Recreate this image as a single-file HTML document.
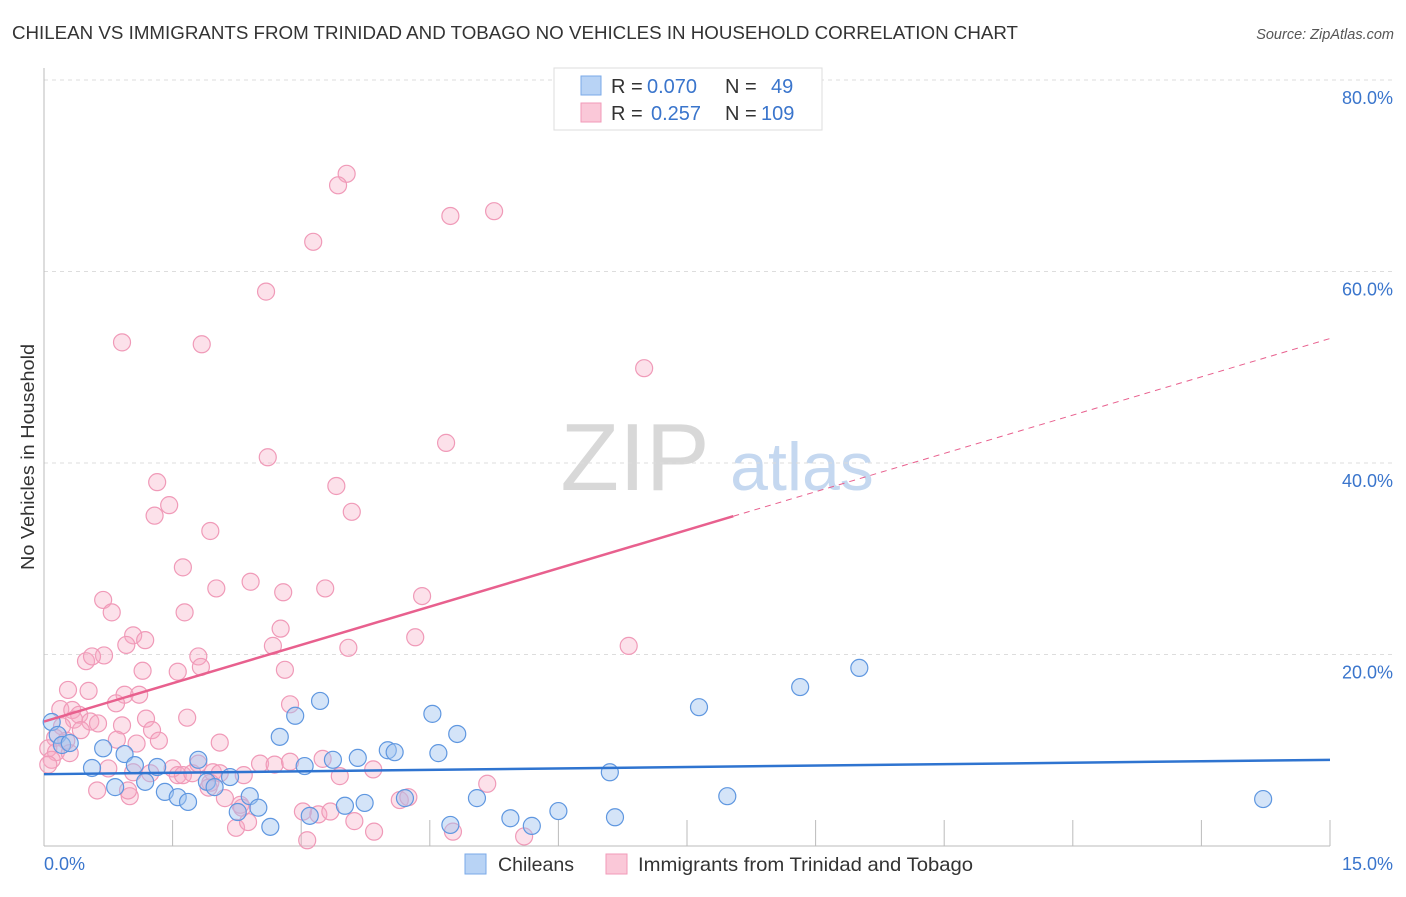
<!DOCTYPE html>
<html><head><meta charset="utf-8"><style>
body{margin:0;background:#fff;font-family:"Liberation Sans",sans-serif;}
svg text{font-family:"Liberation Sans",sans-serif;}
</style></head><body>
<svg id="chart" width="1406" height="892" viewBox="0 0 1406 892" xmlns="http://www.w3.org/2000/svg">
<text x="12" y="39" font-size="18" fill="#333" textLength="1006" lengthAdjust="spacingAndGlyphs">CHILEAN VS IMMIGRANTS FROM TRINIDAD AND TOBAGO NO VEHICLES IN HOUSEHOLD CORRELATION CHART</text>
<text x="1394" y="39" font-size="14.5" fill="#555" text-anchor="end" font-style="italic">Source: ZipAtlas.com</text>
<g>
<text x="635" y="490" font-size="96" fill="#d8d8d8" text-anchor="middle" font-family="Liberation Serif">ZIP</text>
<text x="802" y="490" font-size="68" fill="#c5d8f0" text-anchor="middle">atlas</text>
</g>
<g id="grid"></g>
<g id="axes"></g>
<g id="pts"></g>
<g id="trends"></g>
<text transform="translate(34,457) rotate(-90)" font-size="18.5" fill="#333" text-anchor="middle" textLength="226" lengthAdjust="spacingAndGlyphs">No Vehicles in Household</text>
<g>
<rect x="554" y="68" width="268" height="62" fill="#fff" stroke="#ddd"/>
<rect x="581" y="76" width="20" height="19" fill="#b8d3f5" stroke="#7aa9e8"/>
<rect x="581" y="103" width="20" height="19" fill="#fac8d8" stroke="#f29ab8"/>
<text x="611" y="93" font-size="20" fill="#333">R = </text><text x="647" y="93" font-size="20" fill="#3a75cc">0.070</text>
<text x="725" y="93" font-size="20" fill="#333">N = </text><text x="771" y="93" font-size="20" fill="#3a75cc">49</text>
<text x="611" y="120" font-size="20" fill="#333">R = </text><text x="651" y="120" font-size="20" fill="#3a75cc">0.257</text>
<text x="725" y="120" font-size="20" fill="#333">N = </text><text x="761" y="120" font-size="20" fill="#3a75cc">109</text>
</g>
<g>
<g><rect x="465" y="854" width="21" height="20" fill="#b8d3f5" stroke="#7aa9e8"/><text x="498" y="871" font-size="19.5" fill="#333" textLength="76" lengthAdjust="spacingAndGlyphs">Chileans</text></g>
<g><rect x="606" y="854" width="21" height="20" fill="#fac8d8" stroke="#f29ab8"/><text x="638" y="871" font-size="19.5" fill="#333" textLength="335" lengthAdjust="spacingAndGlyphs">Immigrants from Trinidad and Tobago</text></g>
</g>
</svg>
<script>
const yTicks=[20,40,60,80];
const yTickLabels=["20.0%","40.0%","60.0%","80.0%"];
const xTicks=[1.5,3,4.5,6,7.5,9,10.5,12,13.5,15];
const blueX=[0.09,0.16,0.21,0.30,0.56,0.69,0.83,0.94,1.06,1.18,1.32,1.41,1.56,1.68,1.80,1.90,1.99,2.17,2.40,2.50,2.26,2.64,2.75,2.93,3.04,3.10,3.22,3.37,3.51,3.66,3.74,4.01,4.09,4.21,4.53,4.60,4.74,4.82,5.05,5.44,5.69,6.0,6.6,6.66,7.64,7.97,8.82,9.51,14.22];
const blueY=[12.95,11.6,10.55,10.75,8.15,10.2,6.15,9.6,8.45,6.7,8.25,5.65,5.1,4.6,9.0,6.7,6.15,7.2,5.2,4.0,3.55,2.0,11.4,13.6,8.35,3.15,15.15,9.0,4.2,9.2,4.5,10.0,9.8,5.0,13.8,9.7,2.2,11.7,5.0,2.9,2.1,3.65,7.7,3.0,14.5,5.2,16.6,18.6,4.9];
const pinkX=[3.53,3.43,4.74,5.25,3.14,2.59,0.91,1.84,7.0,4.69,2.61,1.32,3.41,1.46,1.29,3.59,1.94,1.62,2.41,2.01,2.79,3.28,0.69,0.79,1.64,4.41,2.76,1.04,1.18,0.96,4.33,2.67,3.55,6.82,0.70,0.49,0.56,1.80,1.83,1.56,1.15,2.81,0.28,0.52,0.94,1.11,0.84,0.19,0.33,0.41,0.35,2.87,1.67,1.19,0.54,0.63,0.91,0.21,0.43,1.26,0.13,0.26,1.34,2.05,0.85,1.08,0.05,0.14,0.30,0.75,1.04,1.24,1.50,1.56,1.62,1.73,1.80,1.97,1.94,2.05,2.33,2.52,2.69,2.87,3.25,3.45,3.84,1.92,2.11,2.29,2.31,0.62,1.0,0.98,3.02,3.20,3.34,3.62,3.85,4.15,4.25,5.17,2.24,2.38,3.07,4.77,5.60,0.09,0.05];
const pinkY=[70.2,69.0,65.8,66.3,63.1,57.9,52.6,52.4,49.9,42.1,40.6,38.0,37.6,35.6,34.5,34.9,32.9,29.1,27.6,26.9,26.5,26.9,25.7,24.4,24.4,26.1,22.7,22.0,21.5,21.0,21.8,20.9,20.7,20.9,19.9,19.3,19.8,19.8,18.7,18.2,18.3,18.4,16.3,16.2,15.8,15.8,14.9,14.3,14.2,13.7,13.2,14.8,13.4,13.3,13.0,12.8,12.6,12.5,12.1,12.1,11.3,11.0,11.0,10.8,11.1,10.7,10.2,9.8,9.7,8.1,7.7,7.6,8.1,7.4,7.4,7.6,8.6,7.7,6.6,7.6,7.4,8.6,8.5,8.8,9.1,7.3,8.0,6.1,5.0,4.3,4.0,5.8,5.2,5.8,3.6,3.3,3.6,2.6,1.5,4.8,5.1,6.5,1.9,2.5,0.6,1.5,1.0,9.0,8.5];
const blueTrend=[7.5,9.0];
const pinkTrend=[13.0,53.0];
const pinkSolidEnd=8.04;
const NS="http://www.w3.org/2000/svg";
const X=v=>44+v/15*1286;
const Y=v=>846-v/80*766;
function mk(tag,attrs,parent){const e=document.createElementNS(NS,tag);for(const k in attrs)e.setAttribute(k,attrs[k]);document.getElementById(parent).appendChild(e);return e;}
yTicks.forEach((t,i)=>{
  const l=mk('line',{x1:44,x2:1392,y1:Y(t),y2:Y(t),stroke:'#ddd','stroke-dasharray':'4,4'},'grid');
  
  
  const tx=mk('text',{x:1393,y:Y(t)+24,'font-size':18,fill:'#3a75cc','text-anchor':'end'},'grid');
  tx.textContent=yTickLabels[i];
  
  
});
const al=mk('line',{x1:44,x2:44,y1:68,y2:846,stroke:'#bbb'},'axes');


const bl=mk('line',{x1:44,x2:1330,y1:846,y2:846,stroke:'#bbb'},'axes');


xTicks.forEach(t=>{
  const l=mk('line',{x1:X(t),x2:X(t),y1:820,y2:846,stroke:'#bbb'},'axes');
  
  
});
const x0=mk('text',{x:44,y:870,'font-size':18,fill:'#3a75cc'},'axes');x0.textContent='0.0%';


const x1=mk('text',{x:1393,y:870,'font-size':18,fill:'#3a75cc','text-anchor':'end'},'axes');x1.textContent='15.0%';


pinkX.forEach((v,i)=>{
  const c=mk('circle',{cx:X(v),cy:Y(pinkY[i]),r:8.5,fill:'rgba(246,168,196,0.35)',stroke:'#f09ab8','stroke-width':1.2},'pts');
  
  
});
blueX.forEach((v,i)=>{
  const c=mk('circle',{cx:X(v),cy:Y(blueY[i]),r:8.5,fill:'rgba(160,196,240,0.45)',stroke:'#5f97e0','stroke-width':1.2},'pts');
  
  
});
const pm=(pinkTrend[1]-pinkTrend[0])/15;
const ps=mk('line',{x1:X(0),y1:Y(pinkTrend[0]),x2:X(pinkSolidEnd),y2:Y(pinkTrend[0]+pm*pinkSolidEnd),stroke:'#e8608e','stroke-width':2.5},'trends');


const pd=mk('line',{x1:X(pinkSolidEnd),y1:Y(pinkTrend[0]+pm*pinkSolidEnd),x2:X(15),y2:Y(pinkTrend[1]),stroke:'#e8608e','stroke-width':1,'stroke-dasharray':'6,5'},'trends');


const bt=mk('line',{x1:X(0),y1:Y(blueTrend[0]),x2:X(15),y2:Y(blueTrend[1]),stroke:'#2f74d0','stroke-width':2.5},'trends');


</script>
</body></html>
